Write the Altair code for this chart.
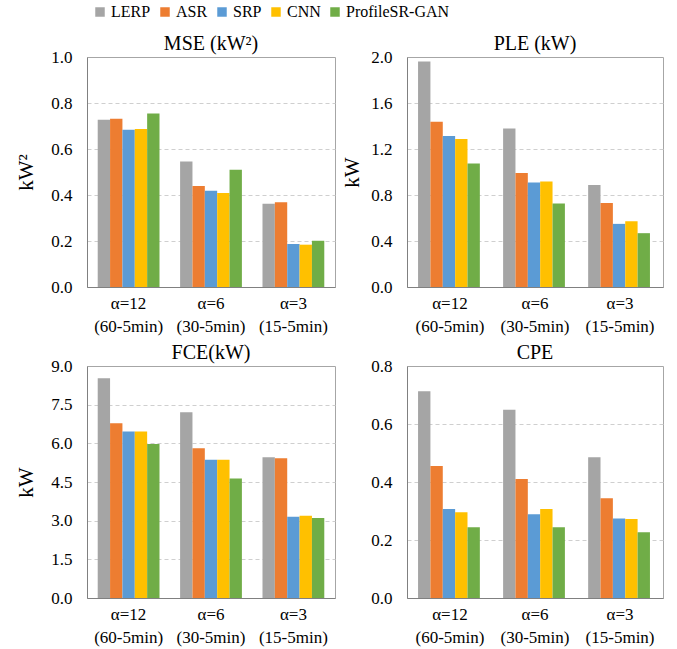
import altair as alt
import pandas as pd

FONT = "Liberation Serif"
INK = "#000000"

groups = ["α=12 (60-5min)", "α=6 (30-5min)", "α=3 (15-5min)"]
methods = ["LERP", "ASR", "SRP", "CNN", "ProfileSR-GAN"]
colors = ["#A5A5A5", "#ED7D31", "#5B9BD5", "#FFC000", "#70AD47"]

# Error metrics per method, one value per down-sampling setting
mse = {
    "LERP": [0.727, 0.546, 0.362],
    "ASR": [0.732, 0.439, 0.368],
    "SRP": [0.684, 0.419, 0.187],
    "CNN": [0.687, 0.409, 0.184],
    "ProfileSR-GAN": [0.754, 0.510, 0.201],
}
ple = {
    "LERP": [1.960, 1.379, 0.888],
    "ASR": [1.437, 0.991, 0.730],
    "SRP": [1.313, 0.908, 0.549],
    "CNN": [1.287, 0.917, 0.572],
    "ProfileSR-GAN": [1.075, 0.727, 0.468],
}
fce = {
    "LERP": [8.52, 7.21, 5.46],
    "ASR": [6.78, 5.81, 5.42],
    "SRP": [6.46, 5.36, 3.15],
    "CNN": [6.46, 5.36, 3.19],
    "ProfileSR-GAN": [5.97, 4.64, 3.10],
}
cpe = {
    "LERP": [0.713, 0.649, 0.485],
    "ASR": [0.455, 0.410, 0.344],
    "SRP": [0.307, 0.289, 0.274],
    "CNN": [0.296, 0.307, 0.272],
    "ProfileSR-GAN": [0.244, 0.244, 0.227],
}

mse_ticks = [0.0, 0.2, 0.4, 0.6, 0.8, 1.0]
ple_ticks = [0.0, 0.4, 0.8, 1.2, 1.6, 2.0]
fce_ticks = [0.0, 1.5, 3.0, 4.5, 6.0, 7.5, 9.0]
cpe_ticks = [0.0, 0.2, 0.4, 0.6, 0.8]

method_legend = alt.Legend(
    orient="none",
    legendX=5,
    legendY=-53,
    direction="horizontal",
    columns=5,
    title=None,
    symbolType="square",
    symbolSize=90,
    symbolStrokeWidth=0,
    labelFont=FONT,
    labelFontSize=16,
    labelFontWeight=400,
    labelColor=INK,
    labelOffset=3,
    columnPadding=6,
)


def panel(series, ticks, title, ytitle, w, h, ytitle_pad=10, with_legend=False):
    rows = []
    for m in methods:
        for g, v in zip(groups, series[m]):
            rows.append({"group": g, "method": m, "value": v})
    df = pd.DataFrame(rows)
    top = ticks[-1]

    y_axis_args = dict(
        values=ticks,
        format=".1f",
        ticks=False,
        labelPadding=15,
        labelFontSize=17,
        labelFont=FONT,
        labelColor=INK,
        domainColor="#808080",
        grid=True,
        gridColor="#CFCFCF",
        gridDash=[4, 3],
        gridOpacity={
            "condition": {"test": f"datum.value <= 0 || datum.value >= {top}", "value": 0},
            "value": 1,
        },
        titleFontSize=21,
        titleFont=FONT,
        titleFontWeight="normal",
        titleColor=INK,
        title=ytitle,
    )
    if ytitle:
        y_axis_args["titlePadding"] = ytitle_pad

    return (
        alt.Chart(
            df,
            title=alt.Title(
                title,
                font=FONT,
                fontSize=20,
                fontWeight="normal",
                color=INK,
                anchor="middle",
                offset=7,
                dy=13,
            ),
        )
        .mark_bar()
        .encode(
            x=alt.X(
                "group:N",
                sort=groups,
                scale=alt.Scale(paddingInner=0.25, paddingOuter=0.13),
                axis=alt.Axis(
                    title=None,
                    labelAngle=0,
                    labelExpr="split(datum.label, ' ')",
                    labelPadding=8,
                    labelLineHeight=23,
                    labelBaseline="top",
                    labelFontSize=17,
                    labelFont=FONT,
                    labelColor=INK,
                    ticks=False,
                    domainColor="#808080",
                ),
            ),
            xOffset=alt.XOffset(
                "method:N", sort=methods, scale=alt.Scale(paddingInner=0, paddingOuter=0)
            ),
            y=alt.Y(
                "value:Q",
                scale=alt.Scale(domain=[0, top], nice=False),
                axis=alt.Axis(**y_axis_args),
            ),
            color=alt.Color(
                "method:N",
                sort=methods,
                scale=alt.Scale(domain=methods, range=colors),
                legend=method_legend if with_legend else None,
            ),
        )
        .properties(width=w, height=h)
    )


mse_chart = panel(mse, mse_ticks, "MSE (kW²)", "kW²", 248, 230, 14, with_legend=True)
ple_chart = panel(ple, ple_ticks, "PLE (kW)", "kW", 256, 230, 8)
fce_chart = panel(fce, fce_ticks, "FCE(kW)", "kW", 248, 232, 14)
cpe_chart = panel(cpe, cpe_ticks, "CPE", None, 256, 232)

chart = (
    alt.concat(
        mse_chart, ple_chart, fce_chart, cpe_chart,
        columns=2,
        spacing={"row": 7, "column": 5},
    )
    .properties(padding={"left": 15, "top": 4, "right": 5, "bottom": 5})
    .configure_legend(labelFont=FONT, labelFontWeight="normal")
    .configure_view(stroke="#A6A6A6", strokeWidth=1)
)

chart.save("out.html", embed_options={"renderer": "svg", "actions": False})
